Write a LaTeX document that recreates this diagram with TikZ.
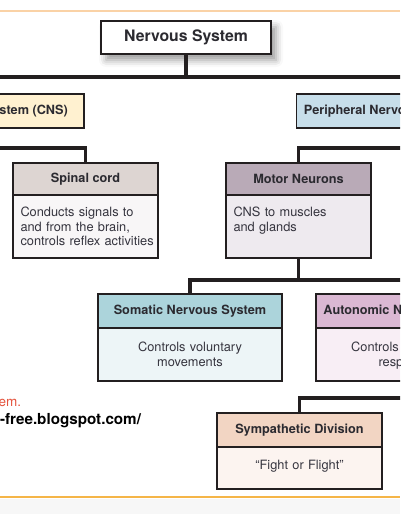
\documentclass[tikz,border=0pt]{standalone}
\usepackage{fontspec}
\setmainfont{TeX Gyre Heros}
\usetikzlibrary{shadows.blur}

\definecolor{boxline}{HTML}{231F20}
\definecolor{txt}{HTML}{2B2A30}
\definecolor{bodytxt}{HTML}{35343E}
\definecolor{cnsfill}{HTML}{FFF1D0}
\definecolor{pnsfill}{HTML}{C7DEEA}
\definecolor{spinalhead}{HTML}{DDD5D2}
\definecolor{spinalbody}{HTML}{F8F6F7}
\definecolor{motorhead}{HTML}{B9AAB7}
\definecolor{motorbody}{HTML}{EEEAEF}
\definecolor{somatichead}{HTML}{ACD4DB}
\definecolor{somaticbody}{HTML}{EDF5F7}
\definecolor{autohead}{HTML}{DBB8D3}
\definecolor{autobody}{HTML}{F8EEF5}
\definecolor{symphead}{HTML}{F2D5C3}
\definecolor{sympbody}{HTML}{FCF4F0}
\definecolor{topline}{HTML}{FAD2A6}
\definecolor{bottomline}{HTML}{F5B548}
\definecolor{band}{HTML}{F7F7F7}
\definecolor{wmred}{HTML}{E4533D}

\begin{document}
\begin{tikzpicture}[
    x=1pt, y=-1pt,
    every node/.style={text=txt, outer sep=0pt},
    headbox/.style={draw=boxline, line width=1.8pt, inner sep=0pt,
        font=\fontsize{12.7}{15}\selectfont\bfseries},
    bodybox/.style={draw=boxline, line width=1.8pt, inner sep=0pt},
    bodytext/.style={inner sep=0pt, text=bodytxt,
        font=\fontsize{12.8}{14.6}\selectfont},
    link/.style={draw=boxline, line width=3.2pt}
]
    \useasboundingbox (0,0) rectangle (400,514);
    \clip (0,0) rectangle (400,514);

    % ==========================
    % PAGE FRAME
    % ==========================
    \draw[topline, line width=1.5pt] (0,11) -- (400,11);
    \fill[band] (0,499) rectangle (400,514);
    \draw[bottomline, line width=1.5pt] (0,497) -- (400,497);

    % watermark fragments
    \node[anchor=base west, inner sep=0pt, text=wmred, font=\fontsize{13.5}{16}\selectfont] (wm1) at (-1.5,406) {em.};
    \node[anchor=base west, inner sep=0pt, text=black, font=\fontsize{15.2}{17}\selectfont\bfseries] (wm2) at (0,424) {-free.blogspot.com/};

    % ==========================
    % BOXES
    % ==========================
    \node[draw=boxline, line width=2pt, fill=white, minimum width=170pt, minimum height=33pt,
        inner sep=0pt, font=\fontsize{15.8}{19}\selectfont\bfseries,
        blur shadow={shadow xshift=5pt, shadow yshift=-6pt, shadow blur radius=7pt, shadow opacity=40}]
        (ns) at (186,37.5) {Nervous System};

    % 1. second level
    \node[headbox, fill=cnsfill, minimum width=218pt, minimum height=34pt] (cns) at (-25,111)
        {Central Nervous System (CNS)};
    \node[headbox, fill=pnsfill, minimum width=218pt, minimum height=34pt] (pns) at (405.5,111)
        {Peripheral Nervous System (PNS)};

    % 2. third level
    \node[headbox, fill=spinalhead, minimum width=145pt, minimum height=32pt, anchor=north]
        (spinal) at (85.5,163) {Spinal cord};
    \node[bodybox, fill=spinalbody, minimum width=145pt, minimum height=63pt, anchor=north]
        (spinal-body) at (spinal.south) {};
    \node[bodytext, text width=137pt, align=left, anchor=north west]
        (spinal-text) at ([xshift=7.5pt, yshift=-12pt]spinal-body.north west)
        {Conducts signals to\\and from the brain,\\controls reflex activities};

    \node[headbox, fill=motorhead, minimum width=145pt, minimum height=32pt, anchor=north]
        (motor) at (298.5,163) {Motor Neurons};
    \node[bodybox, fill=motorbody, minimum width=145pt, minimum height=63pt, anchor=north]
        (motor-body) at (motor.south) {};
    \node[bodytext, text width=137pt, align=left, anchor=north west]
        (motor-text) at ([xshift=7.5pt, yshift=-12pt]motor-body.north west)
        {CNS to muscles\\and glands};

    % 3. fourth level
    \node[headbox, fill=somatichead, minimum width=184pt, minimum height=34pt, anchor=north]
        (somatic) at (190,294) {Somatic Nervous System};
    \node[bodybox, fill=somaticbody, minimum width=184pt, minimum height=53pt, anchor=north]
        (somatic-body) at (somatic.south) {};
    \node[bodytext, text width=170pt, align=center, anchor=north]
        (somatic-text) at ([yshift=-14pt]somatic-body.north)
        {Controls voluntary\\movements};

    \node[headbox, fill=autohead, minimum width=184pt, minimum height=34pt, anchor=north]
        (autonomic) at (408,294) {Autonomic Nervous System};
    \node[bodybox, fill=autobody, minimum width=184pt, minimum height=53pt, anchor=north]
        (autonomic-body) at (autonomic.south) {};
    \node[bodytext, text width=170pt, align=center, anchor=north]
        (autonomic-text) at ([yshift=-14pt]autonomic-body.north)
        {Controls involuntary\\responses};

    % 4. fifth level
    \node[headbox, fill=symphead, minimum width=165pt, minimum height=34pt, anchor=north]
        (sympathetic) at (299.5,413) {Sympathetic Division};
    \node[bodybox, fill=sympbody, minimum width=165pt, minimum height=42pt, anchor=north]
        (sympathetic-body) at (sympathetic.south) {};
    \node[bodytext, text width=150pt, align=center, anchor=north]
        (sympathetic-text) at ([yshift=-13pt]sympathetic-body.north)
        {“Fight or Flight”};

    % ==========================
    % CONNECTORS
    % ==========================
    \coordinate (bar1) at (0,77);
    \coordinate (bar2) at (0,148);
    \coordinate (bar3) at (0,280);
    \coordinate (bar4) at (0,398);

    \draw[link] (ns.south) -- (ns.south |- bar1);
    \draw[link] (cns.north) -- (cns.north |- bar1) -- (pns.north |- bar1) -- (pns.north);
    \draw[link] (cns.south) -- (cns.south |- bar2) -- (spinal.north |- bar2) -- (spinal.north);
    \draw[link] (pns.south) -- (pns.south |- bar2) -- (motor.north |- bar2) -- (motor.north);
    \draw[link] (motor-body.south) -- (motor-body.south |- bar3);
    \draw[link] (somatic.north) -- (somatic.north |- bar3) -- (autonomic.north |- bar3) -- (autonomic.north);
    \draw[link] (autonomic-body.south) -- (autonomic-body.south |- bar4)
        -- (sympathetic.north |- bar4) -- (sympathetic.north);

\end{tikzpicture}
\end{document}
